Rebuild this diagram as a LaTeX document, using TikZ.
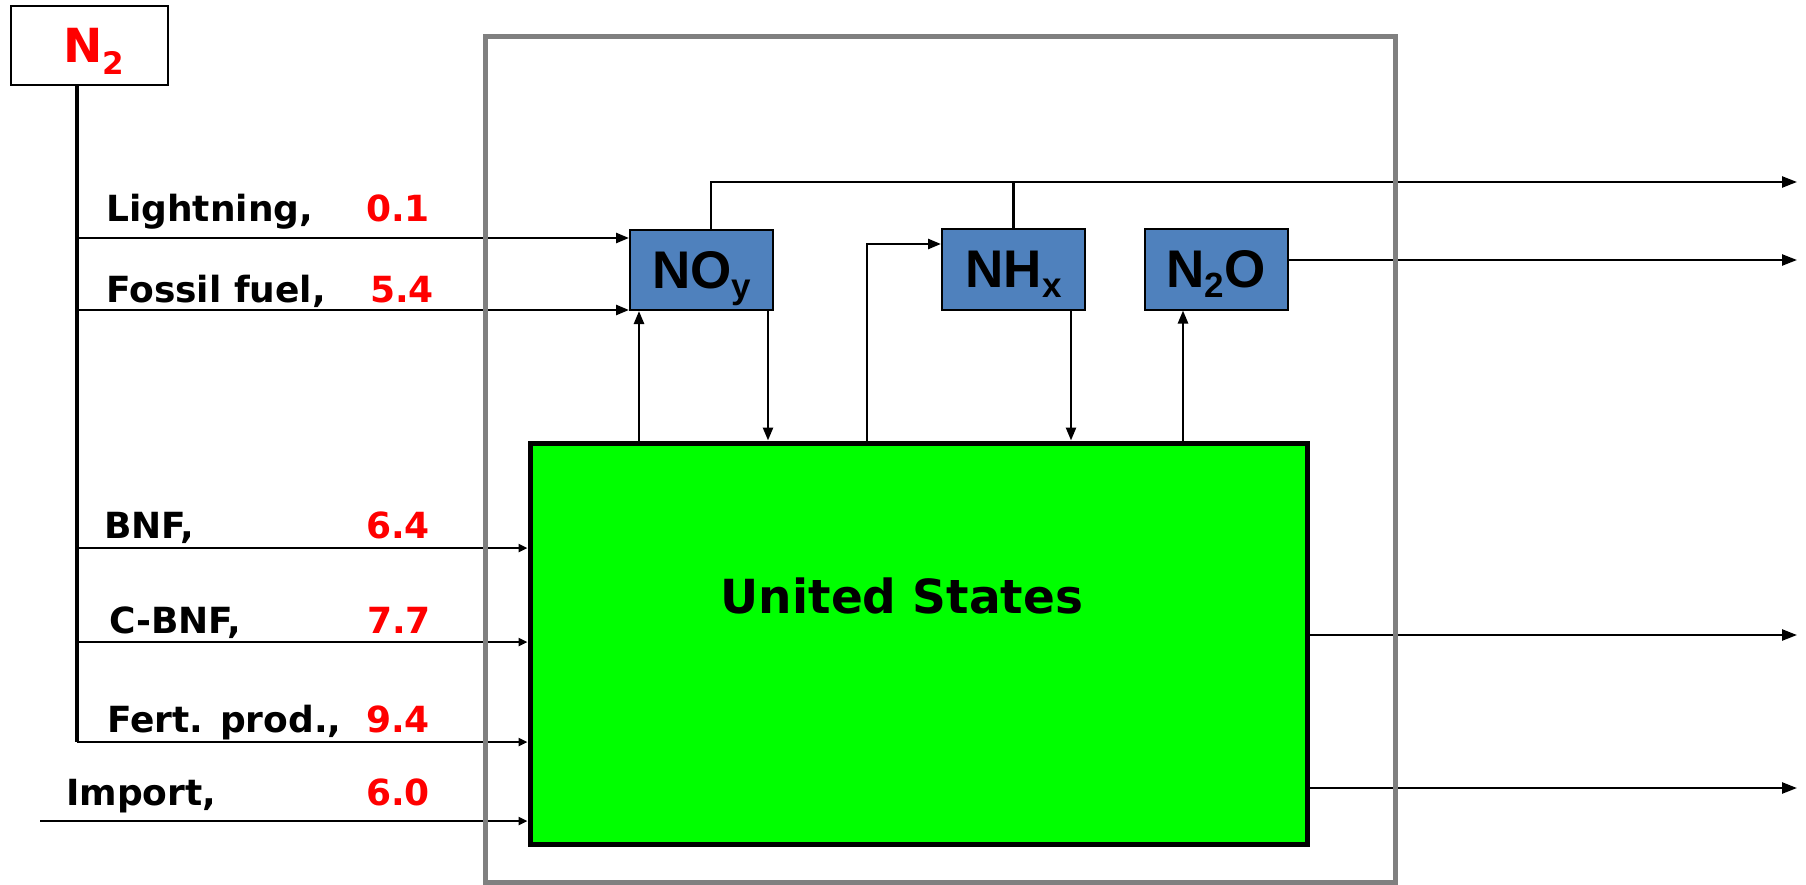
\documentclass[tikz,border=0pt]{standalone}
\usepackage{fontspec}
\setmainfont{DejaVu Sans}
\newfontfamily\boxfont{Liberation Sans}
\usetikzlibrary{arrows.meta}
\definecolor{boxblue}{HTML}{4F81BD}
\definecolor{usgreen}{HTML}{00FF00}
\definecolor{framegray}{HTML}{808080}
\newcommand\dnsub[1]{\raisebox{-10pt}{\fontsize{35}{35}\selectfont #1}}
\newcommand\nsub[1]{\raisebox{-12pt}{\fontsize{31}{31}\selectfont #1}}
\begin{document}
\begin{tikzpicture}[x=1pt,y=-1pt,
  conn/.style={line width=2.5pt},
  arr/.style={conn,-{Triangle[length=13pt,width=10pt]}},
  arrsmall/.style={conn,-{Triangle[length=9pt,width=8pt]}},
  arrout/.style={conn,-{Triangle[length=15pt,width=11pt]}},
  gasbox/.style={draw=black,line width=2pt,fill=boxblue,minimum width=143pt,minimum height=80pt,inner sep=0pt,
    text height=46pt,text depth=10pt,
    font=\boxfont\bfseries\fontsize{53}{53}\selectfont},
  flowlabel/.style={anchor=base west,inner sep=0pt,font=\bfseries\fontsize{36}{36}\selectfont},
  flowvalue/.style={flowlabel,text=red}]
\useasboundingbox (0,0) rectangle (1806,885);

% nodes
\node[draw=black,line width=2.5pt,minimum width=157pt,minimum height=79pt,inner sep=0pt,
  text height=40pt,text depth=5pt,
  font=\bfseries\fontsize{47}{47}\selectfont,text=red] (n2) at (89.5,45.5) {\hspace{8pt}N\nsub{2}};
\node[draw=black,line width=5pt,fill=usgreen,minimum width=777pt,minimum height=401pt,inner sep=0pt] (us) at (918.5,643.5) {};
\node[anchor=base,inner sep=0pt,font=\bfseries\fontsize{47}{47}\selectfont] (ustext) at (902,613) {United States};
\node[gasbox] (noy) at (701.5,270) {NO\dnsub{y}};
\node[gasbox] (nhx) at (1013.5,269.5) {NH\dnsub{x}};
\node[gasbox] (n2o) at (1216,269.5) {N\dnsub{2}O};

% helper coordinates
\coordinate (tk) at (77,742);
\coordinate (yL) at (0,238);
\coordinate (yF) at (0,310);
\coordinate (yB) at (0,548);
\coordinate (yC) at (0,642);
\coordinate (yP) at (0,742);
\coordinate (imp) at (40,821);
\coordinate (x1) at (639,0);
\coordinate (x2) at (768,0);
\coordinate (x3) at (867,0);
\coordinate (yN) at (0,244);
\coordinate (x4) at (1071,0);
\coordinate (x5) at (1183,0);
\coordinate (x6) at (711,0);
\coordinate (out1) at (1797,182);
\coordinate (out2) at (1797,260);
\coordinate (out3) at (1797,635);
\coordinate (out4) at (1797,788);

% N2 trunk and inputs
\draw[line width=3.5pt] (n2.south -| tk) -- (tk);
\draw[arr] (tk |- yL) -- (noy.west |- yL);
\draw[arr] (tk |- yF) -- (noy.west |- yF);
\draw[arrsmall] (tk |- yB) -- (us.west |- yB);
\draw[arrsmall] (tk |- yC) -- (us.west |- yC);
\draw[arrsmall] (tk |- yP) -- (us.west |- yP);
\draw[arrsmall] (imp) -- (us.west |- imp);

% exchanges between United States and gas boxes
\draw[arr] (us.north -| x1) -- (noy.south -| x1);
\draw[arr] (noy.south -| x2) -- (us.north -| x2);
\draw[arr] (us.north -| x3) |- (nhx.west |- yN);
\draw[arr] (nhx.south -| x4) -- (us.north -| x4);
\draw[arr] (us.north -| x5) -- (n2o.south -| x5);

% outputs
\draw[arrout] (noy.north -| x6) |- (out1);
\draw[conn] (nhx.north) -- (nhx.north |- out1);
\draw[arrout] (n2o.east |- out2) -- (out2);
\draw[arrout] (us.east |- out3) -- (out3);
\draw[arrout] (us.east |- out4) -- (out4);

% region frame
\node[draw=framegray,line width=5pt,minimum width=910pt,minimum height=845pt,inner sep=0pt] (region) at (940,459.5) {};

% labels
\node[flowlabel] (lbl1) at (106,222) {Lightning,};
\node[flowvalue] (val1) at (366,222) {0.1};
\node[flowlabel] (lbl2) at (106,302) {Fossil fuel,};
\node[flowvalue] (val2) at (370,302) {5.4};
\node[flowlabel] (lbl3) at (104,538) {BNF,};
\node[flowvalue] (val3) at (366,538) {6.4};
\node[flowlabel] (lbl4) at (109,633) {C-BNF,};
\node[flowvalue] (val4) at (367,633) {7.7};
\node[flowlabel] (lbl5) at (107,732) {Fert. prod.,};
\node[flowvalue] (val5) at (366,732) {9.4};
\node[flowlabel] (lbl6) at (66,805) {Import,};
\node[flowvalue] (val6) at (366,805) {6.0};
\end{tikzpicture}
\end{document}
